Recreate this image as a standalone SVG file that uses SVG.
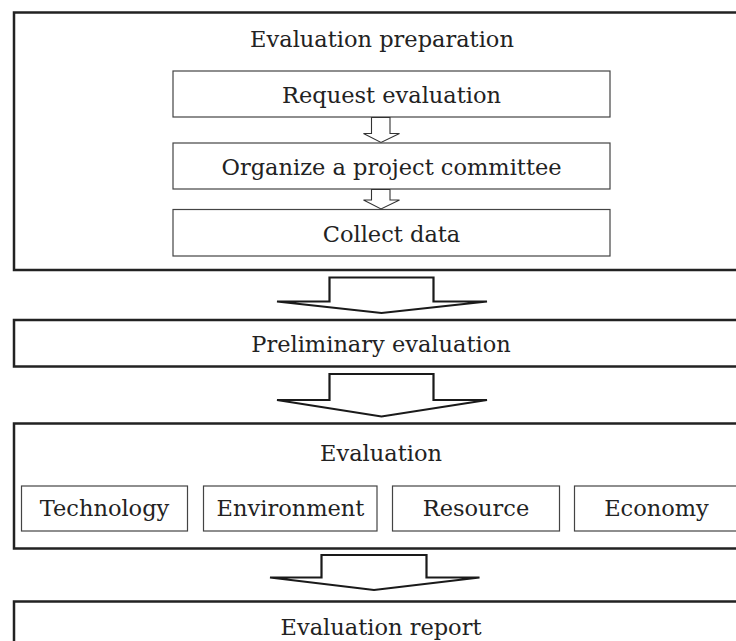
<svg xmlns="http://www.w3.org/2000/svg" width="736" height="641" viewBox="0 0 736 641">
<style>
.outer{fill:none;stroke:#222;stroke-width:2.5}
.inner{fill:#fff;stroke:#444;stroke-width:1.2}
.big{fill:#fff;stroke:#1a1a1a;stroke-width:2.2;stroke-linejoin:miter}
.small{fill:#fff;stroke:#333;stroke-width:1.1}
text{font-family:"DejaVu Serif","Liberation Serif",serif;font-size:22.5px;fill:#222;text-anchor:middle}
</style>
<rect width="736" height="641" fill="#fff"/>
<g id="prep">
<rect class="outer" x="14" y="12.5" width="740" height="257.5"/>
<text x="382" y="47">Evaluation preparation</text>
</g>
<g id="request">
<rect class="inner" x="173" y="71" width="437" height="46"/>
<text x="391.5" y="103">Request evaluation</text>
</g>
<g id="organize">
<rect class="inner" x="173" y="143" width="437" height="46"/>
<text x="391.5" y="175">Organize a project committee</text>
</g>
<g id="collect">
<rect class="inner" x="173" y="209.5" width="437" height="46.5"/>
<text x="391.5" y="241.5">Collect data</text>
</g>
<g id="prelim">
<rect class="outer" x="14" y="320" width="740" height="46.5"/>
<text x="381" y="352">Preliminary evaluation</text>
</g>
<g id="evaluation">
<rect class="outer" x="14" y="423.5" width="740" height="125"/>
<text x="381" y="461">Evaluation</text>
</g>
<g id="technology">
<rect class="inner" x="21.5" y="486" width="166" height="45"/>
<text x="104.5" y="516">Technology</text>
</g>
<g id="environment">
<rect class="inner" x="203.5" y="486" width="173.5" height="45"/>
<text x="290.5" y="516">Environment</text>
</g>
<g id="resource">
<rect class="inner" x="392.5" y="486" width="167" height="45"/>
<text x="476" y="516">Resource</text>
</g>
<g id="economy">
<rect class="inner" x="574.5" y="486" width="170" height="45"/>
<text x="656.5" y="516">Economy</text>
</g>
<g id="report">
<rect class="outer" x="14" y="601.5" width="740" height="60"/>
<text x="381" y="635">Evaluation report</text>
</g>
<g id="connectors">
<polygon class="small" points="371.5,117.5 390,117.5 390,133.5 399.5,133.5 381,142.5 363.5,133.5 371.5,133.5"/>
<polygon class="small" points="371.5,189.5 390,189.5 390,200 399.5,200 381,209 363.5,200 371.5,200"/>
<polygon class="big" points="329.5,277.5 433.5,277.5 433.5,301.5 487,301.5 381.5,313 277,301.5 329.5,301.5"/>
<polygon class="big" points="329.5,374 433.5,374 433.5,400 487,400 381.5,416.5 277,400 329.5,400"/>
<polygon class="big" points="321.5,555 426.5,555 426.5,577.5 479.5,577.5 374,590 270,577.5 321.5,577.5"/>
</g>
</svg>
